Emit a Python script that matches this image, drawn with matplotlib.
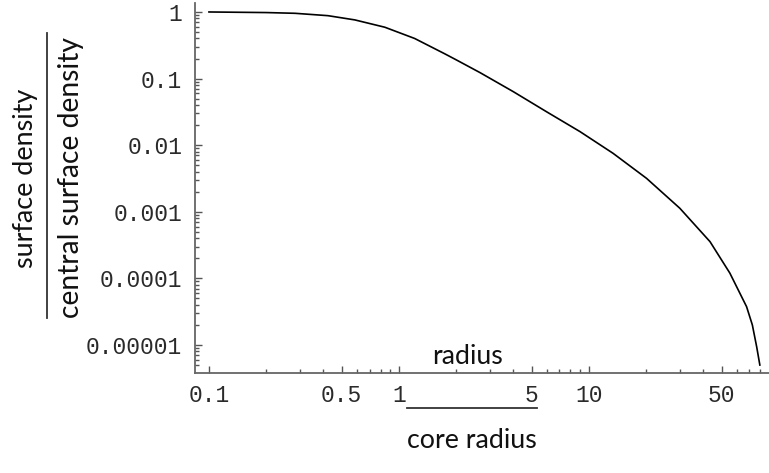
import matplotlib
matplotlib.use("Agg")
import matplotlib.pyplot as plt
from matplotlib.lines import Line2D
from matplotlib.ticker import FixedLocator, FixedFormatter, NullFormatter

# data (radius / core radius, surface density / central)
radius = [0.1, 0.2, 0.284, 0.423, 0.586, 0.843, 1.21, 1.75, 2.01, 2.67, 4.0,
          5.98, 8.97, 13.4, 20.1, 30.1, 43.4, 55.2, 67.6, 72.5, 76.4, 79.4]
density = [1.0, 0.98, 0.955, 0.88, 0.76, 0.59, 0.40, 0.234, 0.19, 0.123, 0.0636,
           0.0318, 0.0160, 0.00755, 0.00318, 0.00113, 3.56e-4, 1.2e-4, 3.76e-5,
           2.0e-5, 9.4e-6, 5.0e-6]

x_ticks = [0.1, 0.5, 1, 5, 10, 50]
x_tick_labels = ["0.1", "0.5", "1", "5", "10", "50"]
y_ticks = [1, 0.1, 0.01, 0.001, 0.0001, 0.00001]
y_tick_labels = ["1", "0.1", "0.01", "0.001", "0.0001", "0.00001"]

fig = plt.figure(figsize=(7.69, 4.73), dpi=100)
ax = fig.add_axes([0.2532, 0.2108, 0.7468, 0.7829])
ax.plot(radius, density, color="black", lw=1.2)
ax.set_xscale("log")
ax.set_yscale("log")
ax.set_xlim(10 ** -1.075, 10 ** 1.948)
ax.set_ylim(10 ** -5.425, 10 ** 0.135)

for s in ["top", "right"]:
    ax.spines[s].set_visible(False)
for s in ["left", "bottom"]:
    ax.spines[s].set_color("#666666")
    ax.spines[s].set_linewidth(1.3)

ax.xaxis.set_major_locator(FixedLocator(x_ticks))
ax.xaxis.set_major_formatter(FixedFormatter(x_tick_labels))
xminor = [m * 10.0 ** e for e in (-1, 0, 1) for m in range(1, 10)]
xminor = [v for v in xminor if v not in x_ticks and v < 85]
ax.xaxis.set_minor_locator(FixedLocator(xminor))
ax.xaxis.set_minor_formatter(NullFormatter())

ax.yaxis.set_major_locator(FixedLocator(y_ticks))
ax.yaxis.set_major_formatter(FixedFormatter(y_tick_labels))
yminor = [m * 10.0 ** e for e in range(-6, 1) for m in range(2, 10)]
yminor = [v for v in yminor if v < 1.3 and v > 4e-6]
ax.yaxis.set_minor_locator(FixedLocator(yminor))
ax.yaxis.set_minor_formatter(NullFormatter())

ax.tick_params(which="both", direction="in", color="#555555", width=1.0)
ax.tick_params(which="major", length=5)
ax.tick_params(which="minor", length=3)
ax.tick_params(axis="y", which="major", pad=9)
ax.tick_params(axis="x", which="major", pad=8)
for lab in ax.get_xticklabels() + ax.get_yticklabels():
    lab.set_fontfamily("Liberation Mono")
    lab.set_fontsize(16.5)
    lab.set_color("#2a2a2a")

sans = "Lato"
W, H = 769, 473

def fx(px):
    return px / W

def fy(py):
    return 1 - py / H

renderer = fig.canvas.get_renderer()

def fitted_text(cx, cy, s, length, vertical=False):
    t = fig.text(fx(cx), fy(cy), s, rotation=90 if vertical else 0,
                 ha="center", va="center", family=sans, fontsize=20,
                 color="#111111")
    bb = t.get_window_extent(renderer)
    cur = bb.height if vertical else bb.width
    t.set_fontsize(20 * length / cur)
    return t

# y-axis label as a fraction
fitted_text(25, 178, "surface density", 180, vertical=True)
fig.add_artist(Line2D([fx(47), fx(47)], [fy(33), fy(318)], color="#333333", lw=1.3,
                      transform=fig.transFigure))
fitted_text(71, 177, "central surface density", 281, vertical=True)

# x-axis label as a fraction
fitted_text(468, 356, "radius", 71)
fig.add_artist(Line2D([fx(407), fx(537)], [fy(408), fy(408)], color="#333333", lw=1.3,
                      transform=fig.transFigure))
fitted_text(472, 440, "core radius", 130)

fig.savefig("out.png", dpi=100)
